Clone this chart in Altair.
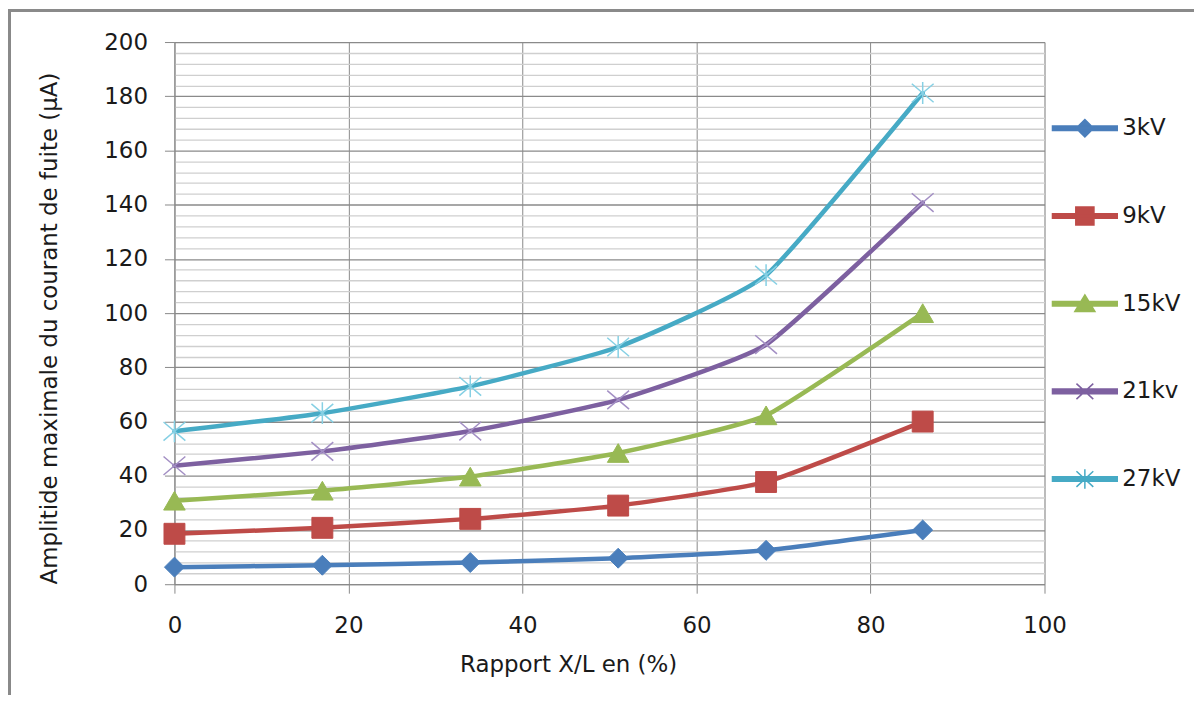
import altair as alt
import pandas as pd

# ---- data ----
x_ratio = [0, 17, 34, 51, 68, 86]
series_names = ["3kV", "9kV", "15kV", "21kv", "27kV"]
v_3kv = [6.3, 7.0, 8.0, 9.6, 12.5, 20.0]
v_9kv = [18.6, 20.8, 24.1, 29.0, 37.7, 60.0]
v_15kv = [30.8, 34.5, 39.7, 48.4, 62.3, 100.0]
v_21kv = [43.7, 49.0, 56.5, 68.0, 88.4, 140.8]
v_27kv = [56.4, 63.1, 73.0, 87.5, 114.0, 181.2]

x_ticks = [0, 20, 40, 60, 80, 100]
y_ticks = list(range(0, 201, 4))

line_colors = ["#4A7EBB", "#BE4B48", "#98B954", "#7D60A0", "#46AAC5"]
marker_strokes = ["#4A7EBB", "#BE4B48", "#98B954", "#A38FC4", "#86D0E4"]

X_PATH = "M-1,-0.85L1,0.85M-1,0.85L1,-0.85"
STAR_PATH = "M-1,-0.85L1,0.85M-1,0.85L1,-0.85M0,-1L0,1"
marker_shapes = ["diamond", "square", "triangle-up", X_PATH, STAR_PATH]
marker_filled = [True, True, True, False, False]
marker_sizes = [400, 440, 470, 480, 480]

# legend symbols: line segment + marker (unit coords, 1 unit = 32.5px)
LINE = "M-1,-0.07H1V0.07H-1Z"
leg_paths = [
    LINE + "M0,-0.27L0.27,0L0,0.27L-0.27,0Z",
    LINE + "M-0.28,-0.28H0.28V0.28H-0.28Z",
    LINE + "M0,-0.27L0.31,0.24H-0.31Z",
    LINE + "M-0.26,-0.24L0.26,0.24M-0.26,0.24L0.26,-0.24",
    LINE + "M-0.26,-0.24L0.26,0.24M-0.26,0.24L0.26,-0.24M0,-0.3L0,0.3",
]

rows = []
for name, vals in zip(series_names, [v_3kv, v_9kv, v_15kv, v_21kv, v_27kv]):
    for xv, yv in zip(x_ratio, vals):
        rows.append({"x": xv, "y": yv, "serie": name})
df = pd.DataFrame(rows)

FONT = "DejaVu Sans"
FS = 23
TXT = "#1a1a1a"
GRID_MAJ = "#8a8a8a"
GRID_MIN = "#cfcfcf"

x_enc = alt.X(
    "x:Q",
    scale=alt.Scale(domain=[0, 100], nice=False),
    axis=alt.Axis(
        values=x_ticks,
        tickCount=20,
        title="Rapport X/L en (%)",
        titleX=395,
        titleY=81,
        titleBaseline="middle",
        titleFontWeight="normal",
        titleFontSize=FS,
        titleFont=FONT,
        titleColor=TXT,
        labelFontSize=FS,
        labelFont=FONT,
        labelColor=TXT,
        labelPadding=21,
        labelFlush=False,
        tickSize=9,
        tickColor=GRID_MAJ,
        domainColor=GRID_MAJ,
        gridColor=GRID_MAJ,
        grid=True,
    ),
)

y_enc = alt.Y(
    "y:Q",
    scale=alt.Scale(domain=[0, 200], nice=False),
    axis=alt.Axis(
        values=y_ticks,
        tickCount=200,
        title="Amplitide maximale du courant de fuite (µA)",
        titleX=-125,
        titleY=287,
        titleBaseline="middle",
        titleFontWeight="normal",
        titleFontSize=FS,
        titleFont=FONT,
        titleColor=TXT,
        labelExpr="datum.value % 20 === 0 ? datum.label : ''",
        labelOverlap=False,
        labelFontSize=FS,
        labelFont=FONT,
        labelColor=TXT,
        labelPadding=17,
        tickSize=10,
        tickColor=GRID_MAJ,
        tickOpacity={"condition": {"test": "datum.value % 20 === 0", "value": 1}, "value": 0},
        domainColor=GRID_MAJ,
        grid=True,
        gridColor={"condition": {"test": "datum.value % 20 === 0", "value": GRID_MAJ}, "value": GRID_MIN},
        gridWidth=1.3,
    ),
)

legend_def = alt.Legend(
    title=None,
    orient="none",
    legendX=880,
    legendY=53,
    padding=0,
    rowPadding=42,
    symbolSize=4225,
    symbolStrokeWidth=1.5,
    symbolOpacity=1,
    labelOffset=4,
    labelFontSize=FS,
    labelFont=FONT,
    labelColor=TXT,
)

lines = alt.Chart(df).mark_line(
    interpolate="cardinal", tension=0.55, strokeWidth=4.5, strokeCap="round"
).encode(
    x=x_enc,
    y=y_enc,
    color=alt.Color("serie:N", scale=alt.Scale(domain=series_names, range=line_colors), legend=legend_def),
    detail="serie:N",
)

point_layers = []
for i, name in enumerate(series_names):
    if marker_filled[i]:
        mk = alt.Chart(df).mark_point(
            shape=marker_shapes[i], filled=True, fill=line_colors[i],
            stroke=line_colors[i], strokeWidth=1, size=marker_sizes[i], opacity=1,
        )
    else:
        mk = alt.Chart(df).mark_point(
            shape=marker_shapes[i], filled=False, stroke=marker_strokes[i],
            strokeWidth=1.5, size=marker_sizes[i], opacity=1,
        )
    point_layers.append(
        mk.encode(x="x:Q", y="y:Q").transform_filter(alt.datum.serie == name)
    )

# invisible marks (size 0) that only carry the legend symbols
legend_layer = alt.Chart(df).mark_point(filled=True, opacity=1, strokeWidth=0, size=0).encode(
    x="x:Q",
    y="y:Q",
    color=alt.Color("serie:N", legend=legend_def),
    shape=alt.Shape("serie:N", scale=alt.Scale(domain=series_names, range=leg_paths), legend=legend_def),
)

frame_left = alt.Chart(df).mark_rule(color="#8a8a8a", strokeWidth=2.5).encode(
    x=alt.value(-166), y=alt.value(-33), y2=alt.value(700)
)
frame_top = alt.Chart(df).mark_rule(color="#8a8a8a", strokeWidth=2.5).encode(
    x=alt.value(-167), x2=alt.value(1030), y=alt.value(-32)
)

chart = (
    alt.layer(lines, *point_layers, legend_layer, frame_left, frame_top)
    .properties(
        width=873,
        height=544,
        autosize=alt.AutoSizeParams(type="none"),
        padding={"left": 167, "top": 33, "right": 150, "bottom": 110},
    )
    .configure_view(stroke=None)
    .configure(background="white")
)

chart.save("out.html", embed_options={"renderer": "svg", "actions": False})
